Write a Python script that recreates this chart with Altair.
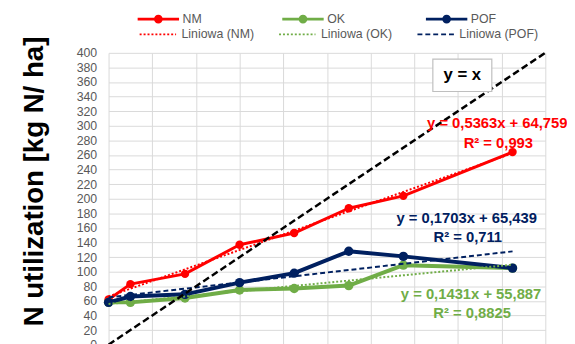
import altair as alt
import pandas as pd

# ---------------- data ----------------
x_vals = [0, 20, 70, 120, 170, 220, 270, 370]
nm_vals = [62, 83, 97, 137, 153, 187, 204, 264]
ok_vals = [58, 58, 64, 75, 77, 81, 109, 105]
pof_vals = [58, 66, 69, 85, 98, 128, 121, 105]

series_names = ["NM", "OK", "POF"]
trend_names = ["Liniowa (NM)", "Liniowa (OK)", "Liniowa (POF)"]
series_colors = ["#FF0000", "#70AD47", "#002060"]

y_ticks = list(range(0, 401, 20))
x_ticks = list(range(0, 401, 40))

identity_x = [0, 400]
identity_y = [0, 400]

eq_text = ["y = 0,5363x + 64,759", "R² = 0,993",
           "y = 0,1703x + 65,439", "R² = 0,711",
           "y = 0,1431x + 55,887", "R² = 0,8825"]
eq_x = [356, 357, 328, 329, 332, 333]
eq_y = [304, 277, 174, 147, 70, 43]
eq_color = ["#FF0000", "#FF0000", "#002060", "#002060", "#70AD47", "#70AD47"]

box_label = ["y = x"]
box_x = [297]
box_x2 = [351]
box_y = [347]
box_y2 = [391.5]
box_tx = [324]
box_ty = [369]

y_title = "N utilization [kg N/ ha]"

# ---------------- tables ----------------
rows = []
for name, vals in zip(series_names, [nm_vals, ok_vals, pof_vals]):
    for xv, yv in zip(x_vals, vals):
        rows.append({"series": name, "x": xv, "y": yv})
df = pd.DataFrame(rows)
df_id = pd.DataFrame({"x": identity_x, "y": identity_y})
df_eq = pd.DataFrame({"x": eq_x, "y": eq_y, "t": eq_text, "c": eq_color})
df_box = pd.DataFrame({"x": box_x, "x2": box_x2, "y": box_y, "y2": box_y2})
df_boxt = pd.DataFrame({"x": box_tx, "y": box_ty, "t": box_label})

FONT = "Liberation Sans"

xs = alt.Scale(domain=[0, 400], nice=False, zero=False)
ys = alt.Scale(domain=[0, 400], nice=False, zero=False)

x_axis = alt.Axis(values=x_ticks, labels=False, ticks=False, domain=False, title=None,
                  grid=True, gridColor="#d9d9d9", gridWidth=1)
y_axis = alt.Axis(values=y_ticks, tickCount=21, ticks=False, tickSize=0, domain=False,
                  grid=True, gridColor="#d9d9d9", gridWidth=1,
                  labelOverlap=False,
                  labelColor="#595959", labelFontSize=12.5,
                  labelFont=FONT, labelPadding=12,
                  title=y_title, titleFont=FONT, titleFontSize=28,
                  titleFontWeight="bold", titleColor="#000000",
                  titleAngle=270, titleAlign="center",
                  titleBaseline="alphabetic",
                  titleX=-67, titleY=130)
x_enc = alt.X("x:Q", scale=xs, axis=x_axis)
y_enc = alt.Y("y:Q", scale=ys, axis=y_axis)

color_scale = alt.Scale(domain=series_names, range=series_colors)
trend_color_scale = alt.Scale(domain=trend_names, range=series_colors)
dash_scale = alt.Scale(domain=trend_names, range=[[2, 2], [2, 2], [5, 3]])

marker_path = ("M-1,0L1,0"
               "M-0.14,0A0.14,0.14,0,1,0,0.14,0A0.14,0.14,0,1,0,-0.14,0"
               "M-0.06,0A0.06,0.06,0,1,0,0.06,0A0.06,0.06,0,1,0,-0.06,0")

legend1 = alt.Legend(title=None, orient="none", direction="horizontal",
                     legendX=28, legendY=-57, symbolType=marker_path, symbolSize=1764,
                     symbolStrokeWidth=3, labelFont=FONT, labelFontSize=12.5,
                     labelColor="#595959", labelOffset=2, columnPadding=74.7, padding=0)
legend2 = alt.Legend(title=None, orient="none", direction="horizontal",
                     legendX=28, legendY=-41, symbolType="M-0.88,0L0.88,0", symbolSize=1764,
                     symbolStrokeWidth=2, labelFont=FONT, labelFontSize=12.5,
                     labelColor="#595959", labelOffset=2, columnPadding=20.4, padding=0)

base = alt.Chart(df)
line_width = {"NM": 3, "OK": 4, "POF": 4}
marker_size = {"NM": 72, "OK": 90, "POF": 90}

series_layers = []
for i, s in enumerate(series_names):
    ln = base.transform_filter(alt.datum.series == s).mark_line(
        strokeWidth=line_width[s], strokeJoin="round").encode(
        x=x_enc, y=y_enc,
        color=alt.Color("series:N", scale=color_scale, legend=legend1 if i == 0 else None))
    pt = base.transform_filter(alt.datum.series == s).mark_point(
        filled=True, opacity=1, size=marker_size[s]).encode(
        x=x_enc, y=y_enc,
        color=alt.Color("series:N", scale=color_scale, legend=None))
    series_layers += [ln, pt]
series_chart = alt.layer(*series_layers)

trend = base.transform_regression("x", "y", groupby=["series"]).transform_calculate(
    trend="'Liniowa (' + datum.series + ')'"
).mark_line(strokeWidth=2).encode(
    x=x_enc, y=y_enc,
    color=alt.Color("trend:N", scale=trend_color_scale, legend=legend2),
    strokeDash=alt.StrokeDash("trend:N", scale=dash_scale, legend=legend2),
)

identity = alt.Chart(df_id).mark_line(color="#000000", strokeWidth=2.5,
                                      strokeDash=[7, 3.5]).encode(x=x_enc, y=y_enc)

box = alt.Chart(df_box).mark_rect(fill="#ffffff", stroke="#bfbfbf", strokeWidth=1.2).encode(
    x=x_enc, x2="x2:Q", y=y_enc, y2="y2:Q")
box_text = alt.Chart(df_boxt).mark_text(font=FONT, fontSize=17, fontWeight="bold",
                                        color="#000000", align="center", baseline="middle").encode(
    x=x_enc, y=y_enc, text="t:N")

eq = alt.Chart(df_eq).mark_text(font=FONT, fontSize=15, fontWeight="bold",
                                align="center", baseline="middle").encode(
    x=x_enc, y=y_enc, text="t:N",
    color=alt.Color("c:N", scale=None))

chart = alt.layer(series_chart, trend, identity, box, box_text, eq).resolve_scale(
    color="independent", strokeDash="independent"
).properties(
    width=443, height=296,
    autosize=alt.AutoSizeParams(type="none"),
    padding={"left": 102, "top": 43, "right": 22, "bottom": 10},
    background="#ffffff",
).configure_view(stroke=None)

chart.save("out.html", embed_options={"renderer": "svg", "actions": False})
